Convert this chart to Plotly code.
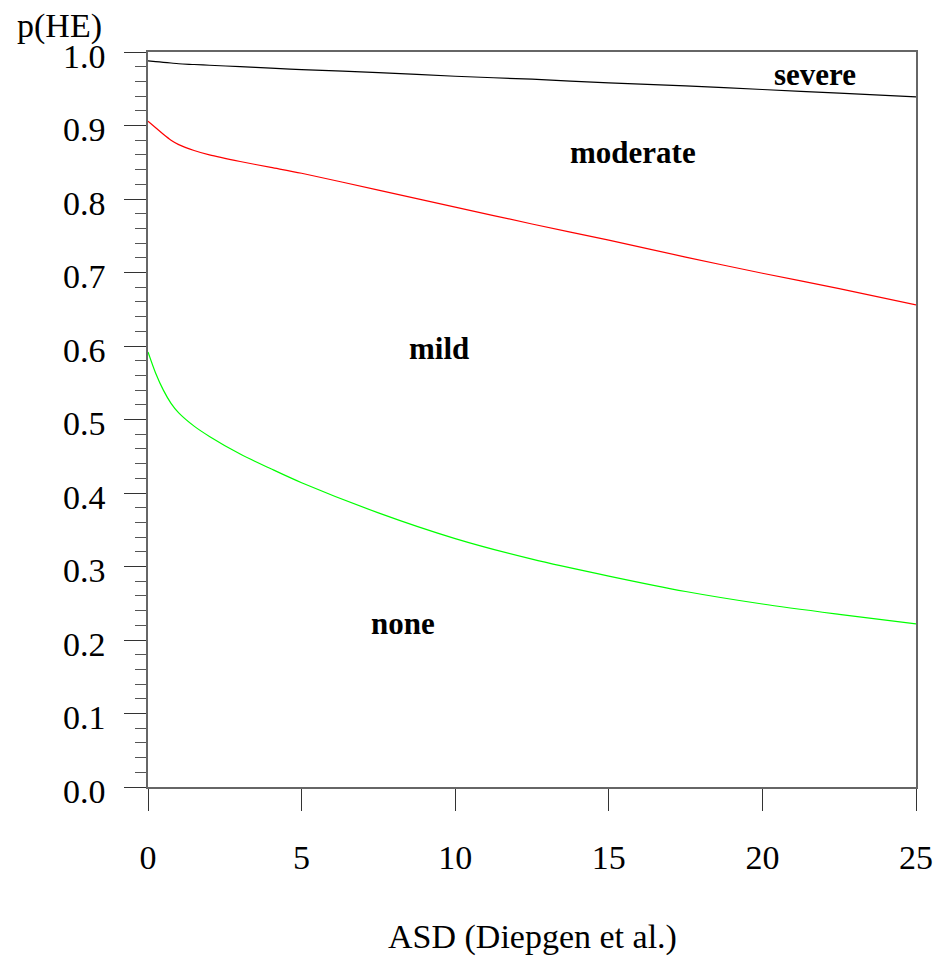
import plotly.graph_objects as go

asd = [0, 0.25, 0.5, 0.75, 1, 1.5, 2, 3, 4, 5, 7.5, 10, 12.5, 15, 17.5, 20, 22.5, 25]
p_severe_cut = [0.988, 0.987, 0.986, 0.985, 0.984, 0.983, 0.982, 0.980, 0.978, 0.976,
                0.972, 0.967, 0.963, 0.958, 0.954, 0.949, 0.944, 0.939]
p_moderate_cut = [0.906, 0.897, 0.888, 0.880, 0.874, 0.866, 0.860, 0.851, 0.843, 0.835,
                  0.812, 0.789, 0.766, 0.744, 0.721, 0.699, 0.678, 0.656]
p_mild_cut = [0.592, 0.563, 0.540, 0.522, 0.509, 0.491, 0.477, 0.453, 0.433, 0.414,
              0.373, 0.338, 0.310, 0.287, 0.266, 0.249, 0.235, 0.222]

region_labels = ["severe", "moderate", "mild", "none"]
region_x = [21.7, 15.8, 9.47, 8.3]
region_y = [0.969, 0.863, 0.596, 0.223]

x_ticks = [0, 5, 10, 15, 20, 25]
y_ticks = [0.0, 0.1, 0.2, 0.3, 0.4, 0.5, 0.6, 0.7, 0.8, 0.9, 1.0]

FONT = "Liberation Serif"

fig = go.Figure()
for ys, col in [(p_severe_cut, "#000000"), (p_moderate_cut, "#ff0000"), (p_mild_cut, "#00ff00")]:
    fig.add_trace(go.Scatter(x=asd, y=ys, mode="lines",
                             line=dict(color=col, width=1.2, shape="spline", smoothing=0.8),
                             showlegend=False, hoverinfo="skip"))

for t, xx, yy in zip(region_labels, region_x, region_y):
    fig.add_annotation(x=xx, y=yy, text="<b>" + t + "</b>", showarrow=False, xref="x", yref="y",
                       font=dict(family=FONT, size=31, color="black"), xanchor="center", yanchor="middle")

fig.add_annotation(x=-0.1146, y=1.036, xref="paper", yref="paper", text="p(HE)", showarrow=False,
                   font=dict(family=FONT, size=34, color="black"), xanchor="center", yanchor="middle")
fig.add_annotation(x=0.5, y=-0.204, xref="paper", yref="paper", text="ASD (Diepgen et al.)", showarrow=False,
                   font=dict(family=FONT, size=34, color="black"), xanchor="center", yanchor="middle")

axis_col = "#666666"
fig.update_xaxes(range=[0, 25], tickvals=x_ticks, ticktext=[str(v) for v in x_ticks],
                 ticks="outside", ticklen=22, tickcolor="#333333", tickwidth=1,
                 showline=True, linecolor=axis_col, linewidth=1.5, mirror=True, automargin=False,
                 showgrid=False, zeroline=False, ticklabelstandoff=17, ticklabeloverflow="allow",
                 tickfont=dict(family=FONT, size=34, color="black"))
fig.update_yaxes(range=[0, 1], tickvals=y_ticks, ticktext=[f"{v:.1f}" for v in y_ticks],
                 ticks="outside", ticklen=22, tickcolor="#333333", tickwidth=1,
                 minor=dict(dtick=0.02, ticks="outside", ticklen=11, tickcolor="#555555", tickwidth=1, showgrid=False),
                 showline=True, linecolor=axis_col, linewidth=1.5, mirror=True, automargin=False,
                 showgrid=False, zeroline=False, ticklabelstandoff=12, ticklabelshift=4,
                 ticklabeloverflow="allow",
                 tickfont=dict(family=FONT, size=34, color="black"))

fig.update_layout(width=938, height=957, margin=dict(l=148, r=22, t=52, b=170),
                  plot_bgcolor="white", paper_bgcolor="white",
                  font=dict(family=FONT, color="black"))

fig.write_html("out.html", config={"displayModeBar": False},
               post_script="document.body.style.margin='0';document.body.style.overflow='hidden';")
